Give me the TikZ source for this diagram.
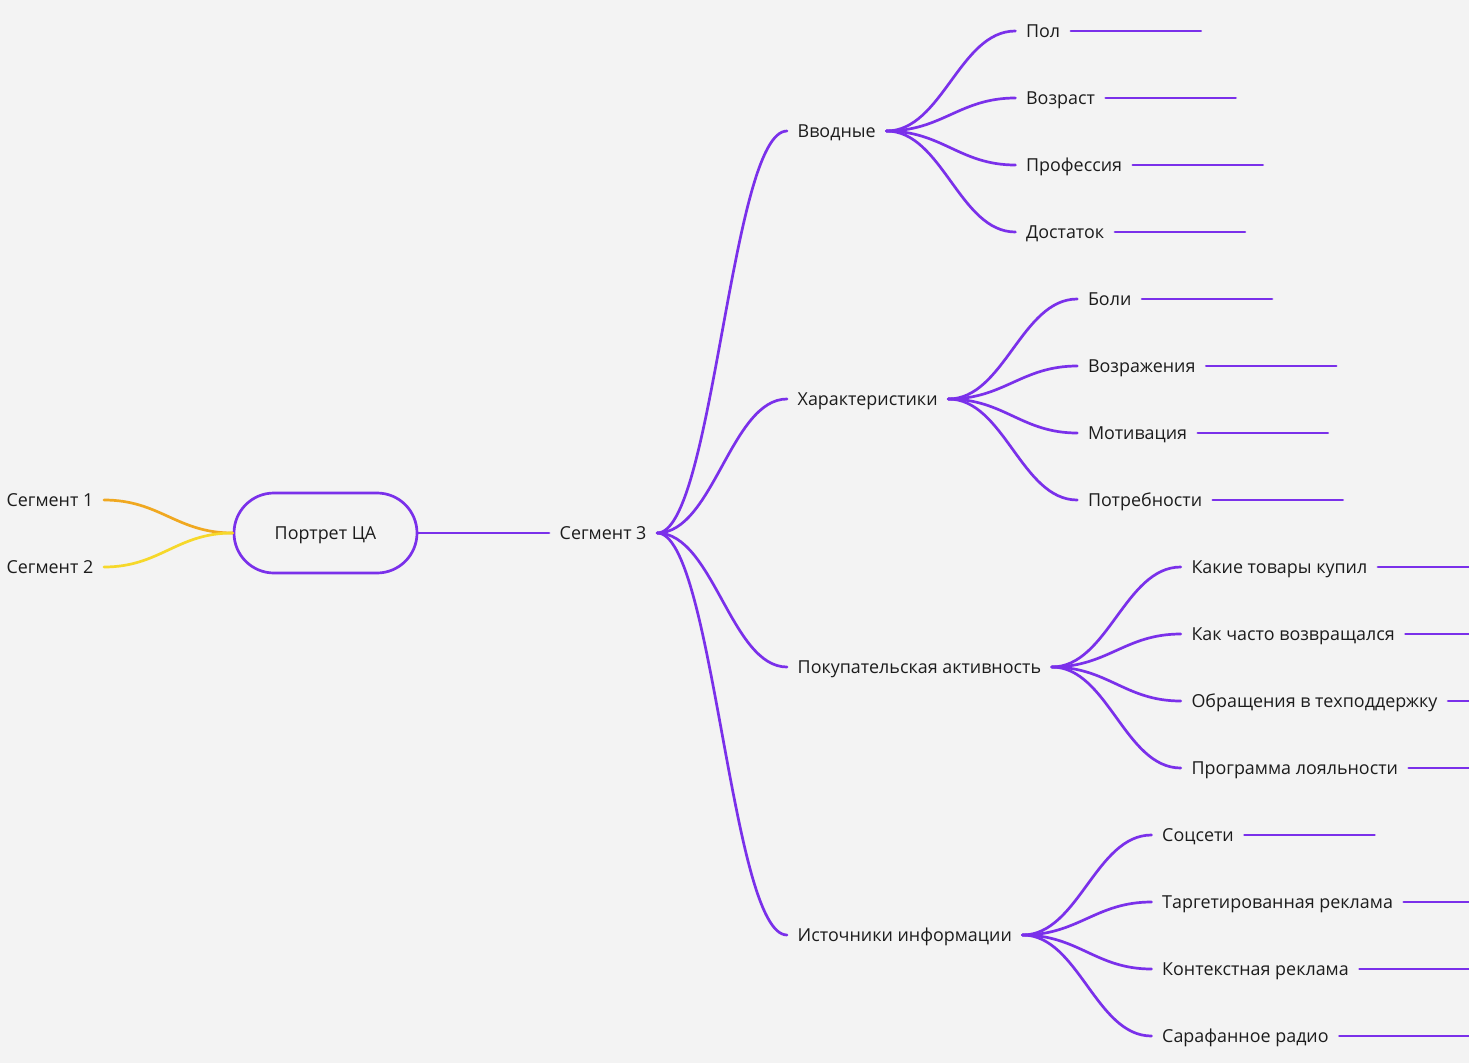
\documentclass[tikz,border=0pt]{standalone}
\usepackage{fontspec}
\setmainfont{Open Sans}
\definecolor{bg}{HTML}{F3F3F3}
\definecolor{pur}{HTML}{7A30EA}
\definecolor{org}{HTML}{F0A820}
\definecolor{yel}{HTML}{F6D82A}
\definecolor{txt}{HTML}{1C1C1C}
\tikzset{
  lab/.style={font=\fontsize{17.9}{21}\selectfont, text=txt, inner xsep=10.5pt, inner ysep=0pt, text height=12.8pt, text depth=0pt},
  pline/.style={draw=pur, line width=2.7pt, line cap=round},
  rootbox/.style={draw=pur, line width=2.7pt, rounded corners=40pt, minimum width=183pt, minimum height=80pt, inner sep=0pt, text height=12.8pt, text depth=0pt, font=\fontsize{17.9}{21}\selectfont, text=txt},
}
\begin{document}
\begin{tikzpicture}[x=1pt,y=-1pt]
\fill[bg] (0,0) rectangle (1469,1063);
\useasboundingbox (0,0) rectangle (1469,1063);
\clip (0,0) rectangle (1469,1063);
% root
\node[rootbox] (root) at (325.5,533) {Портрет ЦА};
\node[lab, anchor=east] (s1) at (104,500) {Сегмент 1};
\node[lab, anchor=east] (s2) at (104,567) {Сегмент 2};
\draw[draw=org, line width=2.7pt, line cap=round] (s1.east) .. controls +(56,0) and +(-56,0) .. (root.west);
\draw[draw=yel, line width=2.7pt, line cap=round] (s2.east) .. controls +(56,0) and +(-56,0) .. (root.west);
\node[lab, anchor=west] (s3) at (549,533) {Сегмент 3};
\draw[pline] (root.east) -- (s3.west);
% level 2
\node[lab, anchor=west] (vv) at (787,131) {Вводные};
\node[lab, anchor=west] (har) at (787,399) {Характеристики};
\node[lab, anchor=west] (pok) at (787,667) {Покупательская активность};
\node[lab, anchor=west] (ist) at (787,935) {Источники информации};
\foreach \n in {vv,har,pok,ist}
  \draw[pline] (s3.east) .. controls +(56,0) and +(-56,0) .. (\n.west);
% Вводные
\path (vv.east) ++(129,-100) node[lab, anchor=west] (a1) {Пол};
\path (vv.east) ++(129,-33) node[lab, anchor=west] (a2) {Возраст};
\path (vv.east) ++(129,34) node[lab, anchor=west] (a3) {Профессия};
\path (vv.east) ++(129,101) node[lab, anchor=west] (a4) {Достаток};
% Характеристики
\path (har.east) ++(129,-100) node[lab, anchor=west] (b1) {Боли};
\path (har.east) ++(129,-33) node[lab, anchor=west] (b2) {Возражения};
\path (har.east) ++(129,34) node[lab, anchor=west] (b3) {Мотивация};
\path (har.east) ++(129,101) node[lab, anchor=west] (b4) {Потребности};
% Покупательская активность
\path (pok.east) ++(129,-100) node[lab, anchor=west] (c1) {Какие товары купил};
\path (pok.east) ++(129,-33) node[lab, anchor=west] (c2) {Как часто возвращался};
\path (pok.east) ++(129,34) node[lab, anchor=west] (c3) {Обращения в техподдержку};
\path (pok.east) ++(129,101) node[lab, anchor=west] (c4) {Программа лояльности};
% Источники информации
\path (ist.east) ++(129,-100) node[lab, anchor=west] (d1) {Соцсети};
\path (ist.east) ++(129,-33) node[lab, anchor=west] (d2) {Таргетированная реклама};
\path (ist.east) ++(129,34) node[lab, anchor=west] (d3) {Контекстная реклама};
\path (ist.east) ++(129,101) node[lab, anchor=west] (d4) {Сарафанное радио};
\foreach \p/\k in {vv/a,har/b,pok/c,ist/d}
  \foreach \i in {1,2,3,4} {
    \draw[pline] (\p.east) .. controls +(56,0) and +(-56,0) .. (\k\i.west);
    \draw[pline] (\k\i.east) -- ++(130,0);
  }
\end{tikzpicture}
\end{document}
